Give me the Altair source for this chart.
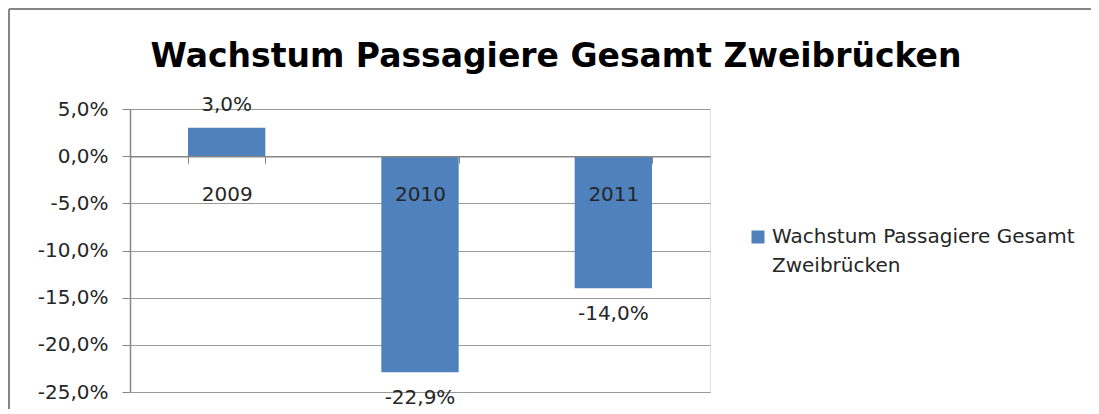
import altair as alt
import pandas as pd

# ---- data ----
years = ["2009", "2010", "2011"]
growth = [0.030, -0.229, -0.140]
series_name = "Wachstum Passagiere Gesamt Zweibrücken"
y_ticks = [0.05, 0.0, -0.05, -0.10, -0.15, -0.20, -0.25]
legend_lines = ["Wachstum Passagiere Gesamt", "Zweibrücken"]

df = pd.DataFrame({"Jahr": years, "Wachstum": growth, "Serie": [series_name] * len(years)})

FONT = "DejaVu Sans"
TEXT = "#262626"
GRAY = "#868686"
GRID = "#9a9a9a"
BLUE = "#4F81BD"

W, H = 580, 283
PAD = {"left": 122, "top": 101, "right": 381, "bottom": 17}

FMT = "replace(replace(format({v}, '.1%'), '.', ','), '\u2212', '-')"

x_enc = alt.X(
    "Jahr:N",
    sort=years,
    scale=alt.Scale(paddingInner=0.6, paddingOuter=0.3),
    axis=alt.Axis(
        title=None, orient="bottom", offset=-235.8, grid=False,
        domainColor=GRAY, domainWidth=1.5, tickBand="extent",
        tickColor=GRAY, tickSize=7, labelAngle=0, labelFont=FONT,
        labelFontSize=20, labelColor=TEXT, labelPadding=21, zindex=1,
    ),
)
y_enc = alt.Y(
    "Wachstum:Q",
    scale=alt.Scale(domain=[-0.25, 0.05], nice=False, zero=False),
    axis=alt.Axis(
        title=None, values=y_ticks, labelExpr=FMT.format(v="datum.value"),
        grid=True, gridColor=GRID, domainColor=GRAY, domainWidth=1.5,
        tickColor=GRAY, tickSize=8, labelPadding=14, labelFont=FONT,
        labelFontSize=20, labelColor=TEXT,
    ),
)

base = alt.Chart(df)

bars = base.mark_bar().encode(
    x=x_enc,
    y=y_enc,
    y2=alt.datum(0),
    color=alt.Color(
        "Serie:N",
        scale=alt.Scale(range=[BLUE]),
        legend=alt.Legend(
            title=None, orient="none", legendX=618, legendY=118,
            symbolType="square", symbolSize=169, symbolStrokeWidth=0,
            labelFont=FONT, labelFontSize=20, labelColor=TEXT, labelLimit=500,
            labelExpr="['" + legend_lines[0] + "', '" + legend_lines[1] + "']",
        ),
    ),
)

lbl = base.transform_calculate(lbl=FMT.format(v="datum.Wachstum"))
pos_text = lbl.transform_filter("datum.Wachstum >= 0").mark_text(
    dy=-23, baseline="middle", font=FONT, fontSize=20, color=TEXT
).encode(x=alt.X("Jahr:N", sort=years), y="Wachstum:Q", text="lbl:N")
neg_text = lbl.transform_filter("datum.Wachstum < 0").mark_text(
    dy=26, baseline="middle", font=FONT, fontSize=20, color=TEXT
).encode(x=alt.X("Jahr:N", sort=years), y="Wachstum:Q", text="lbl:N")

frame_data = alt.Data(values=[{"k": 1}])
top_border = alt.Chart(frame_data).mark_rule(color=GRAY, strokeWidth=2).encode(
    x=alt.value(-121), x2=alt.value(961), y=alt.value(-100)
)
left_border = alt.Chart(frame_data).mark_rule(color=GRAY, strokeWidth=2).encode(
    x=alt.value(-121), y=alt.value(-100), y2=alt.value(300)
)

chart = (
    alt.layer(bars, pos_text, neg_text, top_border, left_border)
    .properties(
        width=W, height=H, padding=PAD, autosize=alt.AutoSizeParams(type="none"),
        title=alt.TitleParams(
            text=series_name, font=FONT, fontWeight="bold", fontSize=33,
            color="#000000", anchor="middle", frame="group", dx=136, offset=-66,
        ),
    )
    .configure_view(strokeWidth=0)
    .configure(background="white", style={"guide-label": {"lineHeight": 29}})
)

chart.save("out.html", embed_options={"renderer": "svg", "actions": False})
